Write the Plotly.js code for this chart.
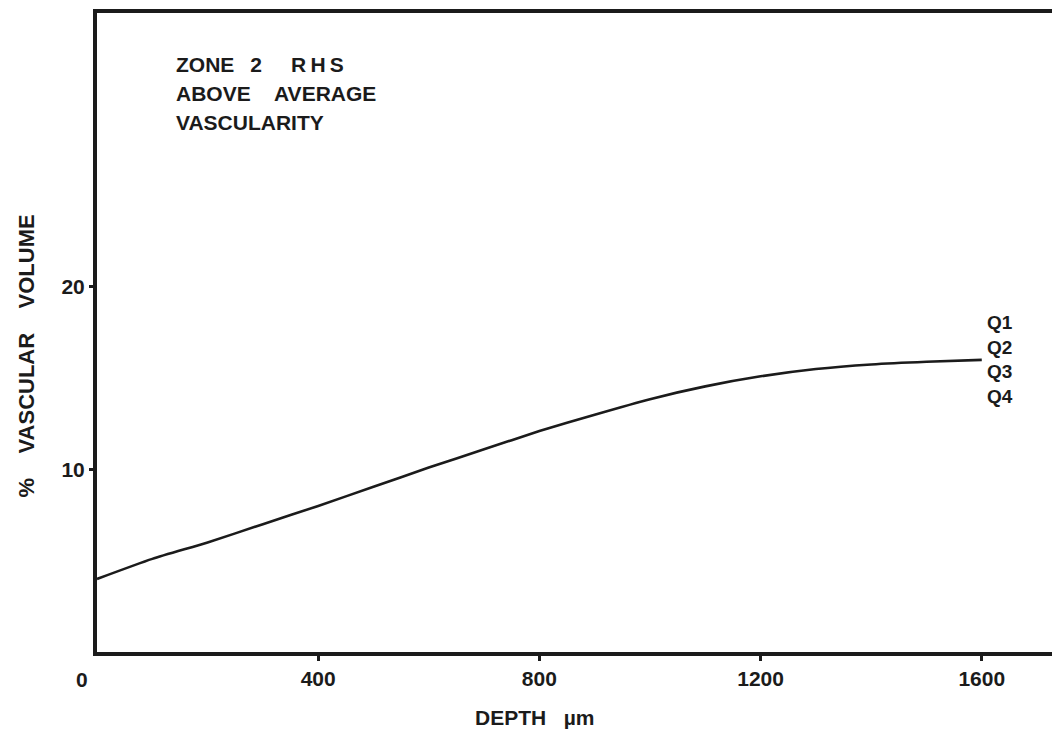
<!DOCTYPE html>
<html>
<head>
<meta charset="utf-8">
<script src="https://cdn.plot.ly/plotly-3.0.1.min.js"></script>
<style>
  html, body { margin: 0; padding: 0; background: #ffffff; }
  #chart { width: 1052px; height: 732px; }
</style>
</head>
<body>
<div id="chart"></div>
<script>
// Vascular volume against depth (one curve shared by quadrants Q1–Q4)
const depthUm = [0, 100, 200, 300, 400, 500, 600, 700, 800, 900, 1000, 1100, 1200, 1300, 1400, 1500, 1600];
const vascularPct = [4.0, 5.1, 6.0, 7.0, 8.0, 9.05, 10.1, 11.1, 12.1, 13.0, 13.85, 14.55, 15.1, 15.5, 15.75, 15.9, 16.0];

const xTickVals = [400, 800, 1200, 1600];
const yTickVals = [10, 20];
const quadrantLabels = ['Q1', 'Q2', 'Q3', 'Q4'];
const noteLines = [
  'ZONE\u00A0\u00A0\u20092\u00A0\u00A0\u00A0\u00A0\u00A0R\u2009H\u2009S',
  'ABOVE\u00A0\u00A0\u00A0\u00A0AVERAGE',
  'VASCULARITY'
];
const xTitle = 'DEPTH\u00A0\u00A0\u00A0µm';
const yTitle = '%\u00A0\u00A0\u00A0\u00A0VASCULAR\u00A0\u00A0\u00A0\u00A0VOLUME';

const ink = '#1b1b1b';
const face = 'Liberation Sans, Arial, Helvetica, sans-serif';
const boldFont = (size) => ({ family: face, size: size, color: ink, weight: 'bold' });

const trace = {
  x: depthUm,
  y: vascularPct,
  type: 'scatter',
  mode: 'lines',
  line: { color: ink, width: 2.6, shape: 'spline', smoothing: 0.6 },
  hoverinfo: 'skip',
  showlegend: false
};

const annotations = [];

// Block of notes in the upper left
noteLines.forEach((t, i) => {
  annotations.push({
    xref: 'paper', yref: 'paper',
    x: 0.081, y: 0.92 - i * 0.0455,
    xanchor: 'left', yanchor: 'middle',
    text: t, showarrow: false,
    font: boldFont(21)
  });
});

// Quadrant labels stacked at the end of the curve
annotations.push({
  xref: 'x', yref: 'y',
  x: depthUm[depthUm.length - 1], y: vascularPct[vascularPct.length - 1],
  xanchor: 'left', yanchor: 'middle', xshift: 3,
  align: 'left',
  text: quadrantLabels.join('<br>'),
  showarrow: false,
  font: boldFont(19)
});

// Origin label on the depth axis
annotations.push({
  xref: 'x', yref: 'y', x: 0, y: 0,
  xanchor: 'center', yanchor: 'top', xshift: -15, yshift: -14,
  text: '0', showarrow: false,
  font: boldFont(21)
});

// Horizontal axis title
annotations.push({
  xref: 'paper', yref: 'paper',
  x: 0.394, y: -0.103,
  xanchor: 'left', yanchor: 'middle',
  text: xTitle, showarrow: false,
  font: boldFont(21)
});

// Vertical axis title
annotations.push({
  xref: 'paper', yref: 'paper',
  x: -0.074, y: 0.463,
  xanchor: 'center', yanchor: 'middle',
  textangle: -90,
  text: yTitle, showarrow: false,
  font: boldFont(22)
});

const layout = {
  width: 1052,
  height: 732,
  margin: { l: 97, r: 0, t: 13, b: 80, pad: 0 },
  paper_bgcolor: '#ffffff',
  plot_bgcolor: '#ffffff',
  showlegend: false,
  xaxis: {
    range: [0, 1727],
    tickvals: xTickVals,
    ticktext: xTickVals.map(String),
    ticks: 'outside', ticklen: 5, tickwidth: 3, tickcolor: ink,
    showline: true, linecolor: ink, linewidth: 4, mirror: true,
    showgrid: false, zeroline: false,
    tickfont: boldFont(21)
  },
  yaxis: {
    range: [0, 35],
    tickvals: yTickVals,
    ticktext: yTickVals.map(String),
    ticks: 'outside', ticklen: 4, tickwidth: 3, tickcolor: ink,
    showline: true, linecolor: ink, linewidth: 4, mirror: false,
    showgrid: false, zeroline: false,
    tickfont: boldFont(21)
  },
  annotations: annotations
};

Plotly.newPlot('chart', [trace], layout, { displayModeBar: false, staticPlot: true });
</script>
</body>
</html>
